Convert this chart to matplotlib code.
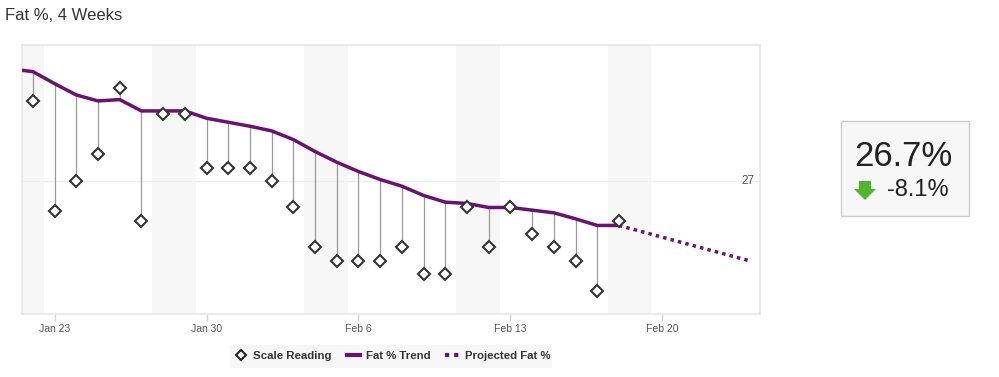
import matplotlib
matplotlib.use("Agg")
import matplotlib.pyplot as plt
import matplotlib.dates as mdates
from matplotlib.patches import Rectangle, Polygon
from matplotlib.lines import Line2D
from datetime import datetime

plt.rcParams['font.family'] = ['Liberation Sans', 'DejaVu Sans']

# ---- data ----
reading_dates = ["2017-01-22", "2017-01-23", "2017-01-24", "2017-01-25", "2017-01-26",
                 "2017-01-27", "2017-01-28", "2017-01-29", "2017-01-30", "2017-01-31",
                 "2017-02-01", "2017-02-02", "2017-02-03", "2017-02-04", "2017-02-05",
                 "2017-02-06", "2017-02-07", "2017-02-08", "2017-02-09", "2017-02-10",
                 "2017-02-11", "2017-02-12", "2017-02-13", "2017-02-14", "2017-02-15",
                 "2017-02-16", "2017-02-17", "2017-02-18"]
scale_reading = [27.6, 26.77, 27.0, 27.2, 27.7, 26.7, 27.5, 27.5, 27.1, 27.1,
                 27.1, 27.0, 26.8, 26.5, 26.4, 26.4, 26.4, 26.5, 26.3, 26.3,
                 26.8, 26.5, 26.8, 26.6, 26.5, 26.4, 26.17, 26.7]
trend_dates = ["2017-01-21"] + reading_dates
fat_trend = [27.84, 27.82, 27.73, 27.645, 27.60, 27.61, 27.525, 27.525, 27.525, 27.47,
             27.44, 27.41, 27.375, 27.31, 27.22, 27.14, 27.07, 27.01, 26.96, 26.89,
             26.84, 26.83, 26.80, 26.80, 26.78, 26.76, 26.715, 26.665, 26.665]
projected_dates = ["2017-02-18", "2017-02-24"]
projected_fat = [26.665, 26.40]
weekend_starts = ["2017-01-21", "2017-01-28", "2017-02-04", "2017-02-11", "2017-02-18"]
tick_dates = ["2017-01-23", "2017-01-30", "2017-02-06", "2017-02-13", "2017-02-20"]
tick_labels = ["Jan 23", "Jan 30", "Feb 6", "Feb 13", "Feb 20"]
current_value = "26.7%"
change_value = "-8.1%"

def d(s):
    return mdates.date2num(datetime.strptime(s, "%Y-%m-%d"))

W, H = 999, 377
fig = plt.figure(figsize=(W / 100, H / 100), dpi=100)
ax = fig.add_axes([22 / W, 1 - 314 / H, (760 - 22) / W, (314 - 45) / H])

purple = "#6b1170"

xr = [d(s) for s in reading_dates]
xt = [d(s) for s in trend_dates]
xp = [d(s) for s in projected_dates]

# weekend bands
for s in weekend_starts:
    x0 = d(s) - 0.5
    ax.axvspan(x0, x0 + 2, color="#f7f7f7", zorder=0, lw=0)

# gridline at 27
ax.axhline(27, color="#eeeeee", lw=1, zorder=1)

# connectors
trend_at = dict(zip(trend_dates, fat_trend))
for s, x, v in zip(reading_dates, xr, scale_reading):
    ax.plot([x, x], [v, trend_at[s]], color="#999999", lw=0.9, zorder=2)

ax.plot(xt, fat_trend, color=purple, lw=2.5, zorder=3, solid_joinstyle="round")
ax.plot(xp, projected_fat, color=purple, lw=2.5, ls=(0, (1, 1.2)), zorder=3)
ax.plot(xr, scale_reading, ls="none", marker="D", ms=6, mfc="white", mec="#333333",
        mew=1.5, zorder=4)

ax.set_xlim(d("2017-01-21") + 0.5, d("2017-02-24") + 0.5)
ax.set_ylim(26.0, 28.02)

ax.set_yticks([])
ax.text(0.993, 27, "27", transform=ax.get_yaxis_transform(), ha="right",
        va="center", fontsize=8.5, color="#555555")

ax.set_xticks([d(s) for s in tick_dates])
ax.set_xticklabels(tick_labels)
ax.tick_params(axis="x", length=5, width=1, color="#ccd6eb", labelcolor="#555555",
               labelsize=7.5, pad=2)
for sp in ax.spines.values():
    sp.set_color("#e6e6e6")
    sp.set_linewidth(1.2)

# title
fig.text(5 / W, 1 - 15 / H, "Fat %, 4 Weeks", fontsize=12, color="#333333",
         ha="left", va="center")

# legend
fig.patches.append(Rectangle((230 / W, 1 - 368 / H), (552 - 230) / W, 23 / H,
                             transform=fig.transFigure, facecolor="#f7f7f7",
                             edgecolor="none"))
handles = [
    Line2D([], [], ls="none", marker="D", ms=5, mfc="white", mec="#222222", mew=1.5),
    Line2D([], [], color=purple, lw=3),
    Line2D([], [], color=purple, lw=3, ls=(0, (1, 1.2))),
]
leg = fig.legend(handles, ["Scale Reading", "Fat % Trend", "Projected Fat %"],
                 loc="center", bbox_to_anchor=(392 / W, 1 - 356 / H), ncol=3,
                 frameon=False, handlelength=1.2, handletextpad=0.5,
                 columnspacing=1.3,
                 prop={"weight": "bold", "size": 8.2})
for t in leg.get_texts():
    t.set_color("#333333")

# right summary box
fig.patches.append(Rectangle((841 / W, 1 - 216 / H), (969 - 841) / W, (216 - 121) / H,
                             transform=fig.transFigure, facecolor="#f7f7f7",
                             edgecolor="#cccccc", lw=1))
fig.text(903 / W, 1 - 157 / H, current_value, fontsize=25, color="#222222",
         ha="center", va="center")
fig.text(918 / W, 1 - 190 / H, change_value, fontsize=17, color="#222222",
         ha="center", va="center")
# green down arrow
ax_pts = [(859, 181), (871, 181), (871, 189), (876, 189), (865, 200), (854, 189), (859, 189)]
fig.patches.append(Polygon([(x / W, 1 - y / H) for x, y in ax_pts], closed=True,
                           transform=fig.transFigure, facecolor="#4fb52a",
                           edgecolor="none"))

fig.savefig("out.png", dpi=100)
